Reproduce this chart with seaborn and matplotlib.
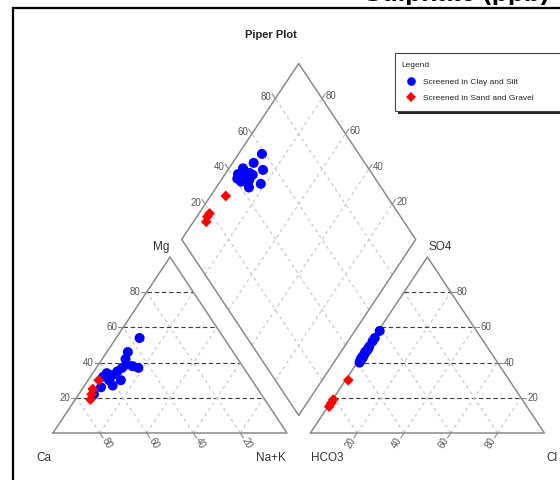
import numpy as np
import pandas as pd
import matplotlib
matplotlib.use("Agg")
import matplotlib.pyplot as plt
import seaborn as sns
from matplotlib.patches import Rectangle
from matplotlib.lines import Line2D

sns.set_theme(style="white")
plt.rcParams['font.family'] = ['Liberation Sans', 'DejaVu Sans']

# ---- data (percent of meq) ----
groups = ["Screened in Clay and Silt", "Screened in Sand and Gravel"]
mg_clay = [54, 46, 42, 39, 38, 37, 37, 35, 33, 34, 30, 32, 30, 27, 26, 22]
nak_clay = [10, 9, 10, 12, 15, 18, 11, 10, 9, 6, 9, 5.5, 14, 12, 7.5, 6.5]
so4_clay = [58, 52, 47, 48, 54, 49, 43, 46, 44, 46, 41, 42, 43, 45, 42, 40]
cl_clay = [0.6, 0.5, 0.8, 0.7, 0.5, 0.6, 0.9, 0.5, 0.7, 0.4, 0.8, 0.6, 0.5, 0.7, 0.9, 1.0]
mg_sand = [19, 25, 30, 22]
nak_sand = [6.5, 4.5, 4.5, 5.5]
so4_sand = [30, 19, 17, 15]
cl_sand = [1.2, 0.3, 0.4, 0.5]
tick_vals = [20, 40, 60, 80]
title = "Piper Plot"
top_title = "Sulphate (ppb)"

df = pd.DataFrame({
    "group": [groups[0]] * len(mg_clay) + [groups[1]] * len(mg_sand),
    "Mg": mg_clay + mg_sand,
    "NaK": nak_clay + nak_sand,
    "SO4": so4_clay + so4_sand,
    "Cl": cl_clay + cl_sand,
})
df["Ca"] = 100 - df["Mg"] - df["NaK"]
df["HCO3"] = 100 - df["SO4"] - df["Cl"]

H = np.sqrt(3) / 2
G = 0.1
# cation triangle
df["cx"] = df["NaK"] / 100 + 0.5 * df["Mg"] / 100
df["cy"] = H * df["Mg"] / 100
# anion triangle
df["ax"] = 1 + G + df["Cl"] / 100 + 0.5 * df["SO4"] / 100
df["ay"] = H * df["SO4"] / 100
# diamond
c = df["NaK"] / 100
s = (df["SO4"] + df["Cl"]) / 100
df["dx"] = 1 + G / 2 - 0.5 * (1 - c) + 0.5 * s
df["dy"] = G * H + H * (1 - c) + H * s

W, HH = 560, 480
fig = plt.figure(figsize=(W / 100, HH / 100), dpi=100)
ax = fig.add_axes([0, 0, 1, 1])
XL = (-53 / 234, (W - 53) / 234)
YL = (-(HH - 433) / 203.2, 433 / 203.2)
ax.set_xlim(*XL)
ax.set_ylim(*YL)
ax.axis("off")

def px(x, y):
    return x / W, 1 - y / HH

edge_col = "#8a8a8a"
grid_col = "#c4c4c4"
dark_col = "#3a3a3a"
tick_col = "#555555"
lab_col = "#333333"

def line(p, q, **kw):
    ax.plot([p[0], q[0]], [p[1], q[1]], **kw)

gkw = dict(color=grid_col, lw=0.8, ls=(0, (3, 3)), zorder=1)
hkw = dict(color=dark_col, lw=0.8, ls=(0, (4, 2.5)), zorder=1)
ekw = dict(color=edge_col, lw=1.1, zorder=2)
tkw = dict(color=edge_col, lw=0.8, zorder=2)

for off in (0, 1 + G):
    pts = [(off, 0), (off + 1, 0), (off + 0.5, H), (off, 0)]
    ax.plot([p[0] for p in pts], [p[1] for p in pts], **ekw)
    for v in tick_vals:
        f = v / 100
        line((off + 0.5 * f, H * f), (off + 1 - 0.5 * f, H * f), **hkw)
        line((off + f, 0), (off + f + 0.5 * (1 - f), H * (1 - f)), **gkw)
        line((off + 1 - f, 0), (off + 0.5 * (1 - f), H * (1 - f)), **gkw)

# diamond
B = np.array([1 + G / 2, G * H])
u = np.array([-0.5, H])
v = np.array([0.5, H])
dpts = [B, B + v, B + u + v, B + u, B]
ax.plot([p[0] for p in dpts], [p[1] for p in dpts], **ekw)
for val in tick_vals:
    f = val / 100
    line(B + f * v, B + f * v + u, **gkw)
    line(B + f * u, B + f * u + v, **gkw)

tfs = 7
e = 0.022
for val in tick_vals:
    f = val / 100
    # Mg ticks (left triangle, left edge)
    p = np.array([0.5 * f, H * f])
    line(p, p + [-e, 0], **tkw)
    ax.text(p[0] - e - 0.004, p[1], str(val), ha="right", va="center", fontsize=tfs, color=tick_col)
    # SO4 ticks (right triangle, right edge)
    p = np.array([1 + G + 1 - 0.5 * f, H * f])
    line(p, p + [e, 0], **tkw)
    ax.text(p[0] + e + 0.004, p[1], str(val), ha="left", va="center", fontsize=tfs, color=tick_col)
    # Ca ticks (left base)
    p = np.array([1 - f, 0])
    d = np.array([0.5, -H])
    line(p, p + 0.028 * d, **tkw)
    q = p + 0.058 * d
    ax.text(q[0], q[1], str(val), ha="center", va="center", fontsize=tfs, color=tick_col, rotation=-60)
    # Cl ticks (right base)
    p = np.array([1 + G + f, 0])
    d = np.array([-0.5, -H])
    line(p, p + 0.028 * d, **tkw)
    q = p + 0.058 * d
    ax.text(q[0], q[1], str(val), ha="center", va="center", fontsize=tfs, color=tick_col, rotation=60)
    # diamond upper-left edge (SO4+Cl)
    p = B + u + f * v
    line(p, p + 0.028 * u, **tkw)
    ax.text(p[0] - 0.017, p[1] + 0.008, str(val), ha="right", va="center", fontsize=tfs, color=tick_col)
    # diamond upper-right edge (Ca+Mg)
    p = B + v + f * u
    line(p, p + 0.028 * v, **tkw)
    ax.text(p[0] + 0.017, p[1] + 0.012, str(val), ha="left", va="center", fontsize=tfs, color=tick_col)

lfs = 8.5
ax.text(-0.0385, -0.1245, "Ca", ha="center", va="center", fontsize=lfs, color=lab_col)
ax.text(0.4615, 0.914, "Mg", ha="center", va="center", fontsize=lfs, color=lab_col)
ax.text(0.930, -0.1245, "Na+K", ha="center", va="center", fontsize=lfs, color=lab_col)
ax.text(1.172, -0.1245, "HCO3", ha="center", va="center", fontsize=lfs, color=lab_col)
ax.text(1.6538, 0.914, "SO4", ha="center", va="center", fontsize=lfs, color=lab_col)
ax.text(2.131, -0.1245, "Cl", ha="center", va="center", fontsize=lfs, color=lab_col)

# points
colors = {groups[0]: "#0000ff", groups[1]: "#ff0000"}
markers = {groups[0]: "o", groups[1]: "D"}
sizes = {groups[0]: 52, groups[1]: 30}
for xcol, ycol in (("cx", "cy"), ("ax", "ay"), ("dx", "dy")):
    for g in groups:
        sub = df[df["group"] == g]
        sns.scatterplot(data=sub, x=xcol, y=ycol, ax=ax, color=colors[g], marker=markers[g],
                        s=sizes[g], edgecolor="none", linewidth=0, legend=False, zorder=5)
ax.set_xlabel("")
ax.set_ylabel("")
ax.set_xlim(*XL)
ax.set_ylim(*YL)

# titles
fig.text(*px(270.5, 35.5), title, ha="center", va="center", fontsize=8, fontweight="bold", color="#222222")
fig.text(*px(456, 1.5), top_title, ha="center", va="baseline", fontsize=19, fontweight="bold",
         color="black", zorder=8)
# mask below the clipped top title
fig.patches.append(Rectangle(px(0, 9), 1, 3.5 / HH, transform=fig.transFigure,
                             facecolor="white", edgecolor="none", zorder=9))

# outer frame
fig.patches.append(Rectangle(px(13, 620), 700 / W, 612 / HH, transform=fig.transFigure,
                             fill=False, edgecolor="black", lw=1.6, zorder=10))

# legend box with shadow
fig.patches.append(Rectangle(px(398, 113.5), 300 / W, 57 / HH, transform=fig.transFigure,
                             facecolor="#222222", edgecolor="none", zorder=11))
fig.patches.append(Rectangle(px(395, 110.5), 300 / W, 57 / HH, transform=fig.transFigure,
                             facecolor="white", edgecolor="#444444", lw=0.8, zorder=12))
handles = [Line2D([], [], ls="none", marker="o", color=colors[groups[0]], markersize=6.2, markeredgewidth=0),
           Line2D([], [], ls="none", marker="D", color=colors[groups[1]], markersize=4.6, markeredgewidth=0)]
leg = fig.legend(handles, groups, loc="upper left", bbox_to_anchor=px(400, 60.5), frameon=False,
                 title="Legend", fontsize=6, title_fontsize=6, handletextpad=0.36, labelspacing=1.05,
                 handlelength=2.17, borderpad=0.2, borderaxespad=0)
leg._legend_box.align = "left"
leg.set_zorder(13)
for t in leg.get_texts():
    t.set_color("#222222")

fig.savefig("out.png", dpi=100)
